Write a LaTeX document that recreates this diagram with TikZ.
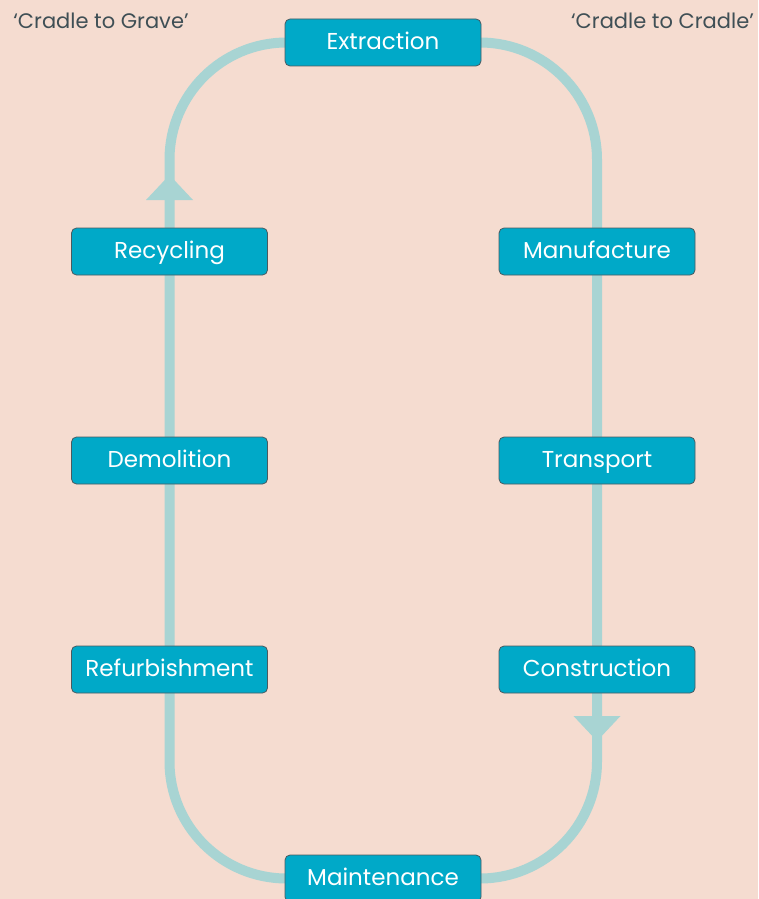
\documentclass[tikz,border=0pt]{standalone}
\usepackage{fontspec}
\setmainfont{Poppins}
\usetikzlibrary{backgrounds}
\definecolor{bgpeach}{HTML}{F5DCD0}
\definecolor{looptea}{HTML}{A8D4D3}
\definecolor{boxcyan}{HTML}{00A9C8}
\definecolor{boxedge}{HTML}{4A5A60}
\definecolor{labelgrey}{HTML}{3F4F55}
\tikzset{
  stage/.style={rectangle, rounded corners=5pt, draw=boxedge, line width=0.8pt,
    fill=boxcyan, text=white, minimum width=196pt, minimum height=47pt,
    text height=17pt, text depth=3pt, font=\fontsize{23}{26}\selectfont},
  loopline/.style={draw=looptea, line width=10pt, rounded corners=117pt},
  topnote/.style={text=labelgrey, font=\fontsize{21}{24}\selectfont, anchor=base}
}
\begin{document}
\begin{tikzpicture}[x=1pt,y=1pt]
\useasboundingbox (0,0) rectangle (758,-899);

\node[stage](extr) at (383, -42.5) {Extraction};
\node[stage](recyc) at (169.5, -251.5) {Recycling};
\node[stage](manuf) at (597, -251.5) {Manufacture};
\node[stage](demol) at (169.5, -460.5) {Demolition};
\node[stage](trans) at (597, -460.5) {Transport};
\node[stage](refurb) at (169.5, -669.5) {Refurbishment};
\node[stage](constr) at (597, -669.5) {Construction};
\node[stage](maint) at (383, -878.5) {Maintenance};

\node[topnote](cgrave) at (101, -29) {‘Cradle to Grave’};
\node[topnote](ccradle) at (662.5, -29) {‘Cradle to Cradle’};

% the loop goes behind the boxes
\begin{scope}[on background layer]
\fill[bgpeach] (0,0) rectangle (758,-899);
\path[loopline] (recyc.center |- extr.center) rectangle (constr.center |- maint.center);
\coordinate (uptip) at (169.5, -175);
\coordinate (downtip) at (597, -741);
\fill[looptea] (uptip) -- ++(23.5,-25) -- ++(-47,0) -- cycle;
\fill[looptea] (downtip) -- ++(23.5,25) -- ++(-47,0) -- cycle;
\end{scope}

\end{tikzpicture}
\end{document}
